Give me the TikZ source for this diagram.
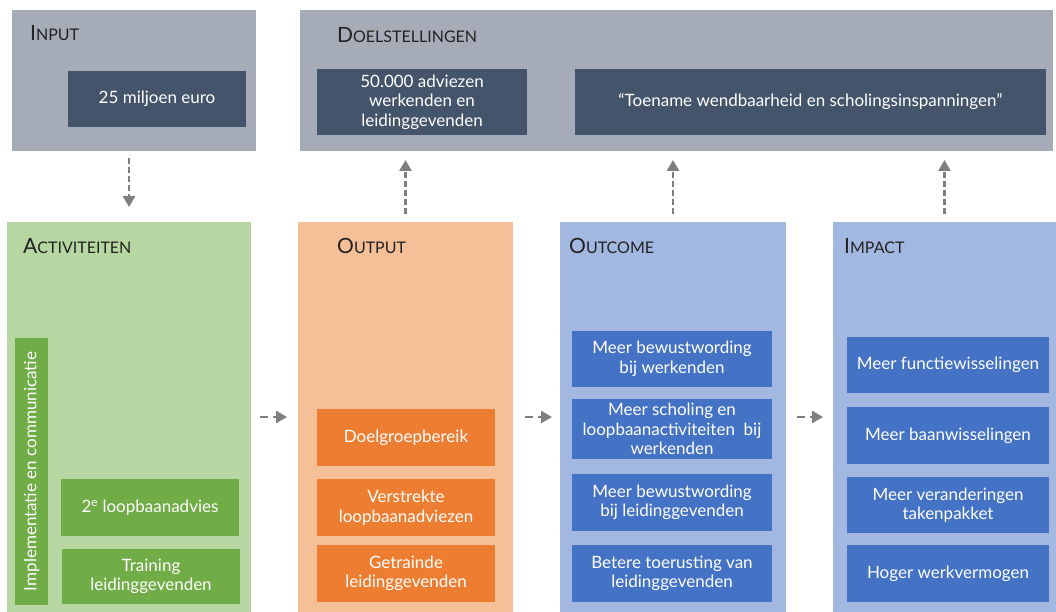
\documentclass[tikz,border=0pt]{standalone}
\usepackage{fontspec}
\setmainfont{Lato}
\usepackage{xcolor}
\usetikzlibrary{arrows.meta}
\definecolor{panelgray}{HTML}{A5ACB8}
\definecolor{darkbox}{HTML}{44546A}
\definecolor{greenpanel}{HTML}{B7D7A2}
\definecolor{greenbox}{HTML}{70AD47}
\definecolor{orangepanel}{HTML}{F5BF97}
\definecolor{orangebox}{HTML}{ED7D31}
\definecolor{bluepanel}{HTML}{A2B8E1}
\definecolor{bluebox}{HTML}{4472C4}
\definecolor{arrowgray}{HTML}{7F7F7F}
\definecolor{headtext}{HTML}{222222}
\newcommand{\tikzboxfont}{\fontsize{17}{19.5}\selectfont}
\newcommand{\tikzheadlabel}[2]{{\fontsize{21}{21}\selectfont #1}{\fontsize{16}{16}\selectfont #2}}
\tikzstyle{panel}=[draw=none,inner sep=0pt,outer sep=0pt,minimum height=390pt]
\tikzstyle{textbox}=[draw=none,inner sep=0pt,outer sep=0pt,text=white,align=center,font=\tikzboxfont,minimum height=57pt]
\tikzstyle{actbox}=[textbox,fill=greenbox,minimum width=178pt]
\tikzstyle{outputbox}=[textbox,fill=orangebox,minimum width=178pt]
\tikzstyle{outcomebox}=[textbox,fill=bluebox,minimum width=200pt]
\tikzstyle{impactbox}=[textbox,fill=bluebox,minimum width=202pt]
\tikzstyle{headlabel}=[anchor=base west,inner sep=0pt,text=headtext]
\tikzstyle{flowedge}=[draw=arrowgray,line width=2.5pt,dash pattern=on 6pt off 3pt,-{Triangle[width=12pt,length=11pt]}]
\tikzstyle{flowedgeh}=[flowedge,dash pattern=on 8pt off 5pt]

\begin{document}
\begin{tikzpicture}[x=1pt,y=-1pt]
  \useasboundingbox[fill=white] (0,0) rectangle (1056,612);
  % Top row: input and goals.
  \node[panel, fill=panelgray, minimum width=244pt, minimum height=141pt] (input) at (134,80.5) {};
  \node[panel, fill=panelgray, minimum width=753pt, minimum height=141pt] (doel) at (676.5,80.5) {};
  \node[textbox, fill=darkbox, minimum width=178pt, minimum height=56pt] (budget) at (157,99) {25 miljoen euro};
  \node[textbox, fill=darkbox, minimum width=210pt, minimum height=66pt] (adviezen) at (422,102) {50.000 adviezen\\werkenden en\\leidinggevenden};
  \node[textbox, fill=darkbox, minimum width=471pt, minimum height=66pt] (toename) at (810.5,102) {“Toename wendbaarheid en scholingsinspanningen”};
  \node[headlabel] (inputlbl) at (30,41) {\tikzheadlabel{I}{NPUT}};
  \node[headlabel] (doellbl) at (337,43) {\tikzheadlabel{D}{OELSTELLINGEN}};
  % Bottom row: panels
  \node[panel, fill=greenpanel, minimum width=244pt] (act) at (129,417) {};
  \node[panel, fill=orangepanel, minimum width=215pt] (output) at (405.5,417) {};
  \node[panel, fill=bluepanel, minimum width=226pt] (outcome) at (673,417) {};
  \node[panel, fill=bluepanel, minimum width=223pt] (impact) at (944.5,417) {};
  \node[headlabel] (actlbl) at (23,253) {\tikzheadlabel{A}{CTIVITEITEN}};
  \node[headlabel] (outputlbl) at (337,253) {\tikzheadlabel{O}{UTPUT}};
  \node[headlabel] (outcomelbl) at (569,253) {\tikzheadlabel{O}{UTCOME}};
  \node[headlabel] (impactlbl) at (844,253) {\tikzheadlabel{I}{MPACT}};
  % activiteiten
  \node[actbox, minimum width=33pt, minimum height=267pt] (impl) at (31.5,471.5) {};
  \node[text=white, font=\tikzboxfont, rotate=90, inner sep=0pt] (impltext) at (impl.center) {Implementatie en communicatie};
  \node[actbox] (advies2) at (150,507.5) {2\textsuperscript{e} loopbaanadvies};
  \node[actbox, minimum height=55pt] (training) at (151,576.5) {Training\\leidinggevenden};
  % output
  \node[outputbox] (bereik) at (406,437.5) {Doelgroepbereik};
  \node[outputbox] (verstrekt) at (406,507.5) {Verstrekte\\loopbaanadviezen};
  \node[outputbox] (getraind) at (406,573.5) {Getrainde\\leidinggevenden};
  % outcome
  \node[outcomebox, minimum height=56pt] (oc1) at (672,359) {Meer bewustwording\\bij werkenden};
  \node[outcomebox, minimum height=60pt] (oc2) at (672,429) {Meer scholing en\\loopbaanactiviteiten~ bij\\werkenden};
  \node[outcomebox] (oc3) at (672,502.5) {Meer bewustwording\\bij leidinggevenden};
  \node[outcomebox] (oc4) at (672,573.5) {Betere toerusting van\\leidinggevenden};
  % impact
  \node[impactbox, minimum height=56pt] (im1) at (948,365) {Meer functiewisselingen};
  \node[impactbox] (im2) at (948,435.5) {Meer baanwisselingen};
  \node[impactbox, minimum height=56pt] (im3) at (948,505) {Meer veranderingen\\takenpakket};
  \node[impactbox] (im4) at (948,573.5) {Hoger werkvermogen};
  % arrows
  \path[flowedge, shorten <=7pt, shorten >=15pt] (act.north |- input.south) -- (act.north);
  \path[flowedge, shorten <=8pt, shorten >=9pt] (output.north) -- (output.north |- doel.south);
  \path[flowedge, shorten <=8pt, shorten >=9pt] (outcome.north) -- (outcome.north |- doel.south);
  \path[flowedge, shorten <=8pt, shorten >=9pt] (impact.north) -- (impact.north |- doel.south);
  \path[flowedgeh, shorten <=9pt, shorten >=11pt] (act.east) -- (output.west);
  \path[flowedgeh, shorten <=12pt, shorten >=8pt] (output.east) -- (outcome.west);
  \path[flowedgeh, shorten <=11pt, shorten >=10pt] (outcome.east) -- (impact.west);
\end{tikzpicture}
\end{document}
